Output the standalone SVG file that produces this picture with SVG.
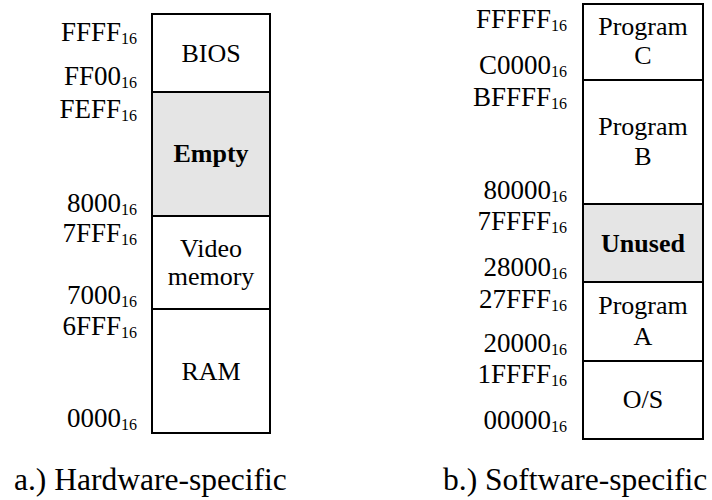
<svg xmlns="http://www.w3.org/2000/svg" width="712" height="500" viewBox="0 0 712 500">
<style>
text{font-family:"Liberation Serif","Times New Roman",serif;fill:#000}
.addr{font-size:27px;text-anchor:end}
.sub{font-size:16px}
.lbl{font-size:26px;text-anchor:middle}
.b{font-weight:bold}
.cap{font-size:31.5px}
.box{stroke:#000;stroke-width:2;fill:#fff}
.gray{fill:#e5e5e5}
</style>
<rect width="712" height="500" fill="#fff"/>
<g id="hw-map">
  <g id="bios"><rect class="box" x="152" y="14" width="118" height="78"/><text class="lbl" x="211" y="62">BIOS</text></g>
  <g id="empty"><rect class="box gray" x="152" y="92" width="118" height="124"/><text class="lbl b" x="211" y="162">Empty</text></g>
  <g id="video"><rect class="box" x="152" y="216" width="118" height="93"/><text class="lbl" x="211" y="257">Video</text><text class="lbl" x="211" y="285">memory</text></g>
  <g id="ram"><rect class="box" x="152" y="309" width="118" height="124"/><text class="lbl" x="211" y="380">RAM</text></g>
  <g id="hw-addr">
    <text class="addr" x="137" y="40.5">FFFF<tspan class="sub" dy="3">16</tspan></text>
    <text class="addr" x="137" y="85">FF00<tspan class="sub" dy="3">16</tspan></text>
    <text class="addr" x="137" y="117.5">FEFF<tspan class="sub" dy="3">16</tspan></text>
    <text class="addr" x="137" y="212">8000<tspan class="sub" dy="3">16</tspan></text>
    <text class="addr" x="137" y="242">7FFF<tspan class="sub" dy="3">16</tspan></text>
    <text class="addr" x="137" y="304">7000<tspan class="sub" dy="3">16</tspan></text>
    <text class="addr" x="137" y="335">6FFF<tspan class="sub" dy="3">16</tspan></text>
    <text class="addr" x="137" y="427">0000<tspan class="sub" dy="3">16</tspan></text>
  </g>
  <text class="cap" x="14" y="490">a.) Hardware-specific</text>
</g>
<g id="sw-map">
  <g id="progC"><rect class="box" x="583" y="4" width="120" height="76"/><text class="lbl" x="643" y="35">Program</text><text class="lbl" x="643" y="64">C</text></g>
  <g id="progB"><rect class="box" x="583" y="80" width="120" height="124"/><text class="lbl" x="643" y="135">Program</text><text class="lbl" x="643" y="165">B</text></g>
  <g id="unused"><rect class="box gray" x="583" y="204" width="120" height="78"/><text class="lbl b" x="643" y="252">Unused</text></g>
  <g id="progA"><rect class="box" x="583" y="282" width="120" height="79"/><text class="lbl" x="643" y="314">Program</text><text class="lbl" x="643" y="345">A</text></g>
  <g id="os"><rect class="box" x="583" y="361" width="120" height="78"/><text class="lbl" x="643" y="408">O/S</text></g>
  <g id="sw-addr">
    <text class="addr" x="567" y="28">FFFFF<tspan class="sub" dy="3">16</tspan></text>
    <text class="addr" x="567" y="74">C0000<tspan class="sub" dy="3">16</tspan></text>
    <text class="addr" x="567" y="106">BFFFF<tspan class="sub" dy="3">16</tspan></text>
    <text class="addr" x="567" y="199">80000<tspan class="sub" dy="3">16</tspan></text>
    <text class="addr" x="567" y="230">7FFFF<tspan class="sub" dy="3">16</tspan></text>
    <text class="addr" x="567" y="276">28000<tspan class="sub" dy="3">16</tspan></text>
    <text class="addr" x="567" y="308">27FFF<tspan class="sub" dy="3">16</tspan></text>
    <text class="addr" x="567" y="351.5">20000<tspan class="sub" dy="3">16</tspan></text>
    <text class="addr" x="567" y="383">1FFFF<tspan class="sub" dy="3">16</tspan></text>
    <text class="addr" x="567" y="429">00000<tspan class="sub" dy="3">16</tspan></text>
  </g>
  <text class="cap" x="443" y="490">b.) Software-specific</text>
</g>
</svg>
